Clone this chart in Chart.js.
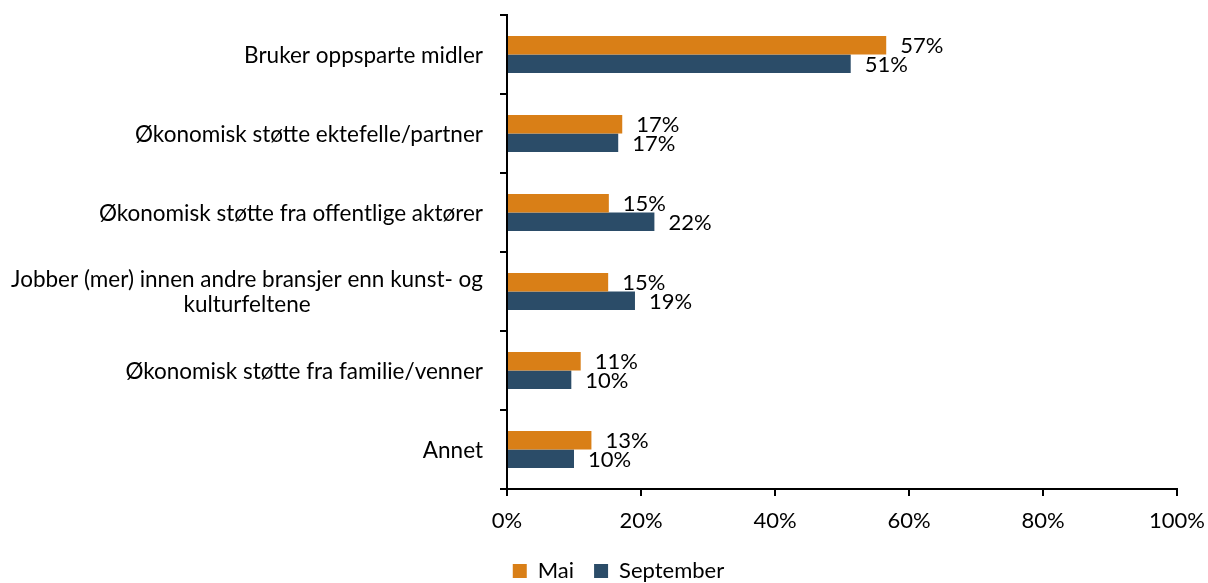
<!DOCTYPE html>
<html>
<head>
<meta charset="utf-8">
<script src="https://cdn.jsdelivr.net/npm/chart.js@4.4.0/dist/chart.umd.min.js"></script>
<style>
  html, body { margin: 0; padding: 0; background: #fff; }
  #wrap { width: 1208px; height: 583px; }
</style>
</head>
<body>
<div id="wrap"><canvas id="chart"></canvas></div>
<script>
// data
var categories = [
  ["Bruker oppsparte midler"],
  ["Økonomisk støtte ektefelle/partner"],
  ["Økonomisk støtte fra offentlige aktører"],
  ["Jobber (mer) innen andre bransjer enn kunst- og", "kulturfeltene"],
  ["Økonomisk støtte fra familie/venner"],
  ["Annet"]
];
var mai = [56.6, 17.2, 15.2, 15.1, 11.0, 12.6];
var september = [51.3, 16.6, 22.0, 19.1, 9.6, 10.0];
var xTicks = [0, 20, 40, 60, 80, 100];

var FONT = "Lato, 'Noto Sans', sans-serif";
var PAD_LEFT = 60;

// verdier bak stolpene
var valueLabels = {
  id: 'valueLabels',
  afterDatasetsDraw: function(chart) {
    var ctx = chart.ctx;
    ctx.save();
    ctx.font = '22px ' + FONT;
    ctx.fillStyle = '#000';
    ctx.textAlign = 'left';
    ctx.textBaseline = 'middle';
    chart.data.datasets.forEach(function(ds, i) {
      chart.getDatasetMeta(i).data.forEach(function(bar, j) {
        ctx.fillText(Math.round(ds.data[j]) + '%', bar.x + 14, bar.y + 1);
      });
    });
    ctx.restore();
  }
};

// kategorinavn, linjene sentrert mot hverandre, blokken høyrejustert
var catLabels = {
  id: 'catLabels',
  afterDraw: function(chart) {
    var ctx = chart.ctx;
    var y = chart.scales.y;
    ctx.save();
    ctx.font = '22.5px ' + FONT;
    ctx.fillStyle = '#000';
    ctx.textAlign = 'center';
    ctx.textBaseline = 'middle';
    var right = chart.chartArea.left - 24;
    var lh = 25;
    categories.forEach(function(lines, i) {
      var w = 0;
      lines.forEach(function(l) { w = Math.max(w, ctx.measureText(l).width); });
      var cy = y.getPixelForValue(i) + 1;
      var top = cy - (lines.length - 1) * lh / 2;
      lines.forEach(function(l, k) {
        ctx.fillText(l, right - w / 2, top + k * lh);
      });
    });
    ctx.restore();
  }
};

new Chart(document.getElementById('chart'), {
  type: 'bar',
  data: {
    labels: categories,
    datasets: [
      { label: 'Mai', data: mai, backgroundColor: '#D97F17', categoryPercentage: 0.47, barPercentage: 1.0 },
      { label: 'September', data: september, backgroundColor: '#2B4C68', categoryPercentage: 0.47, barPercentage: 1.0 }
    ]
  },
  options: {
    indexAxis: 'y',
    responsive: true,
    maintainAspectRatio: false,
    animation: false,
    layout: { padding: { top: 15, right: 31, left: PAD_LEFT, bottom: -9 } },
    plugins: {
      legend: {
        position: 'bottom',
        labels: {
          font: { family: FONT, size: 22, lineHeight: 1 },
          color: '#000',
          boxWidth: 14,
          boxHeight: 14,
          padding: 20
        }
      },
      tooltip: { enabled: false }
    },
    scales: {
      x: {
        min: 0,
        max: 100,
        afterBuildTicks: function(scale) {
          scale.ticks = xTicks.map(function(v) { return { value: v }; });
        },
        afterFit: function(scale) {
          scale.height = 51;
          scale.paddingLeft = 0;
          scale.paddingRight = 0;
        },
        border: { color: '#000', width: 2 },
        grid: { drawOnChartArea: false, tickLength: 7, color: '#000', lineWidth: 2 },
        ticks: {
          font: { family: FONT, size: 22 },
          color: '#000',
          padding: 12,
          callback: function(v) { return v + '%'; }
        }
      },
      y: {
        afterFit: function(scale) { scale.width = 507 - PAD_LEFT; },
        border: { color: '#000', width: 2 },
        grid: { drawOnChartArea: false, offset: true, tickLength: 7, color: '#000', lineWidth: 2 },
        ticks: { display: false }
      }
    }
  },
  plugins: [valueLabels, catLabels]
});
</script>
</body>
</html>
